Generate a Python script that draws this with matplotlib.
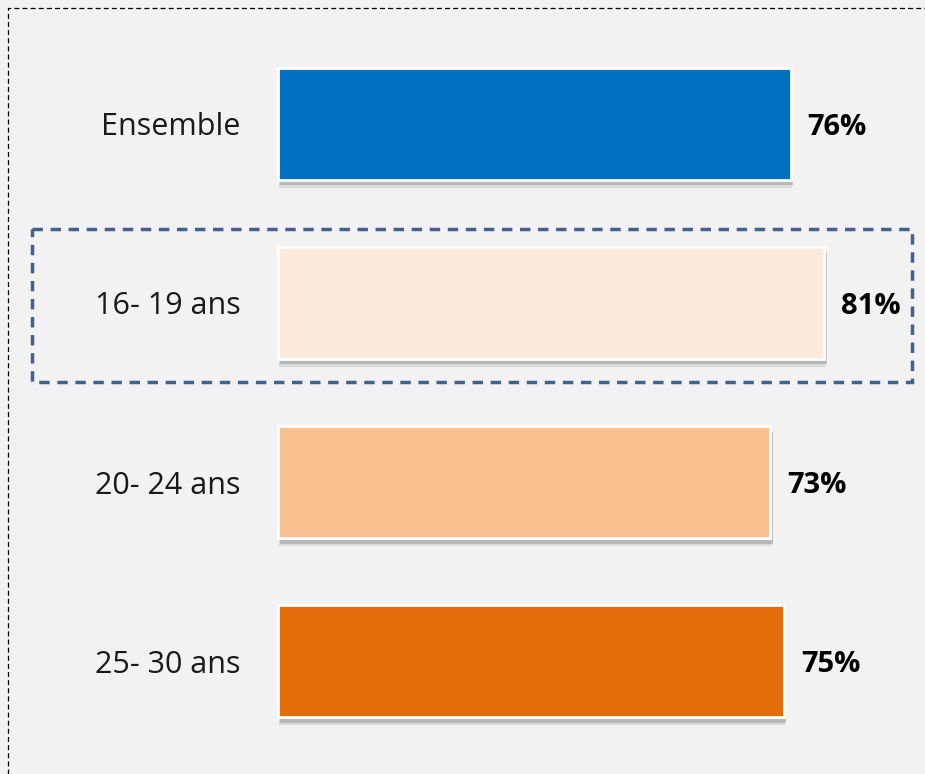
import matplotlib.pyplot as plt
import matplotlib.patheffects as pe
from matplotlib.patches import Rectangle

categories = ["Ensemble", "16- 19 ans", "20- 24 ans", "25- 30 ans"]
values = [76, 81, 73, 75]
colors = ["#0070C0", "#FDEADA", "#FAC090", "#E46C0A"]
highlight = 1  # index of the framed category

plt.rcParams["font.family"] = ["Open Sans", "DejaVu Sans"]

fig = plt.figure(figsize=(9.25, 7.74), dpi=100, facecolor="#f2f2f2")
ax = fig.add_axes([0, 0, 1, 1])
ax.set_facecolor("#f2f2f2")

# data coordinates chosen so that 0% sits at the bar base
ax.set_xlim(-41.2, 95.9)
ax.set_ylim(3.63, -0.69)
ax.axis("off")

ypos = list(range(len(categories)))
bars = ax.barh(ypos, values, height=0.625, color=colors,
               edgecolor="white", linewidth=2)
for b in bars:
    b.set_path_effects([
        pe.SimplePatchShadow(offset=(1, -6), shadow_rgbFace="#b0b0b0", alpha=0.35),
        pe.SimplePatchShadow(offset=(1.5, -4), shadow_rgbFace="#8f8f8f", alpha=0.45),
        pe.Normal()])

for y, lab, v in zip(ypos, categories, values):
    ax.text(-5.5, y + 0.02, lab, ha="right", va="center", fontsize=22, color="#1a1a1a")
    ax.text(v + 2.5, y + 0.02, f"{v}%", ha="left", va="center", fontsize=21,
            fontweight="bold", color="black")

# dashed frame around the highlighted row
ax.add_patch(Rectangle((-36.4, highlight - 0.41), 130.3, 0.85, fill=False,
                       edgecolor="#41618f", linewidth=2.5, linestyle=(0, (3, 2.2)),
                       clip_on=False, zorder=5))

# outer dashed border (left and top only visible)
fig.add_artist(plt.Line2D([8 / 925, 8 / 925, 1.0], [0.0, 1 - 8 / 774, 1 - 8 / 774],
                          transform=fig.transFigure, color="black", linewidth=0.9,
                          linestyle=(0, (4, 2.5))))

fig.savefig("out.png", dpi=100, facecolor=fig.get_facecolor())
